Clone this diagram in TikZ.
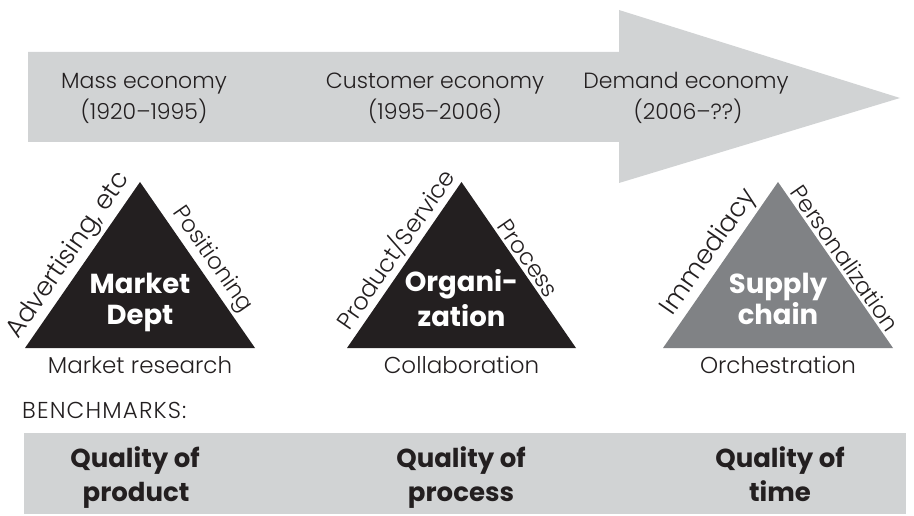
\documentclass[tikz,border=0pt]{standalone}
\usepackage{fontspec}
\setmainfont{Poppins}[UprightFont={* Light}, BoldFont={* Bold}]
\definecolor{bandgray}{HTML}{D1D3D4}
\definecolor{ink}{HTML}{231F20}
\definecolor{midgray}{HTML}{808285}
\newcommand{\fsz}[1]{\fontsize{#1}{#1}\selectfont}
\begin{document}
\begin{tikzpicture}[x=1pt,y=1pt,
  era/.style={font=\fsz{22}, text=ink, anchor=base, inner sep=0pt},
  core/.style={font=\fsz{27.5}\bfseries, text=white, anchor=base, inner sep=0pt},
  basetext/.style={font=\fsz{23}, text=ink, anchor=base, inner sep=0pt},
  sidelbl/.style={font=\fsz{#1}, text=ink, sloped, above, inner sep=3pt},
  sidelbl/.default=24,
  bench/.style={font=\fsz{26}\bfseries, text=ink, anchor=base, inner sep=0pt},
]
\useasboundingbox (0,0) rectangle (914,515);

% timeline arrow
\fill[bandgray] (28,463) -- (619,463) -- (619,505) -- (900,417)
  -- (619,332) -- (619,373) -- (28,373) -- cycle;

\node[era] (mass1) at (144,426) {Mass economy};
\node[era] (mass2) at (144,395) {(1920–1995)};
\node[era] (cust1) at (435,426) {Customer economy};
\node[era] (cust2) at (435,395) {(1995–2006)};
\node[era] (dem1) at (686,426) {Demand economy};
\node[era] (dem2) at (688,395) {(2006–??)};

% triangle corners
\coordinate (t1l) at (25,167);  \coordinate (t1r) at (255,167);  \coordinate (t1t) at (140,333);
\coordinate (t2l) at (347,167); \coordinate (t2r) at (576,167); \coordinate (t2t) at (461.5,333);
\coordinate (t3l) at (663,167); \coordinate (t3r) at (893,167); \coordinate (t3t) at (778,333);

\fill[ink] (t1l) -- (t1r) -- (t1t) -- cycle;
\fill[ink] (t2l) -- (t2r) -- (t2t) -- cycle;
\fill[midgray] (t3l) -- (t3r) -- (t3t) -- cycle;

% names inside the triangles
\node[core] (mkt1) at (140,222) {Market};
\node[core] (mkt2) at (140,190) {Dept};
\node[core] (org1) at (461.5,223) {Organi-};
\node[core] (org2) at (461.5,189) {zation};
\node[core] (sup1) at (778,222) {Supply};
\node[core] (sup2) at (778,190) {chain};

% side labels
\path (t1l) -- node[sidelbl=26, pos=.5] (adv) {Advertising, etc} (t1t);
\path (t1t) -- node[sidelbl=23, pos=.52] (pos) {Positioning} (t1r);
\path (t2l) -- node[sidelbl=24, pos=.54] (prod) {Product/Service} (t2t);
\path (t2t) -- node[sidelbl=23, pos=.5] (proc) {Process} (t2r);
\path (t3l) -- node[sidelbl=26, pos=.52] (imm) {Immediacy} (t3t);
\path (t3t) -- node[sidelbl=23, pos=.5] (pers) {Personalization} (t3r);

% base labels
\node[basetext] (mres) at (140,142) {Market research};
\node[basetext] (coll) at (461.5,142) {Collaboration};
\node[basetext] (orch) at (778,142) {Orchestration};

% benchmarks
\node[basetext, font=\fsz{23}\addfontfeature{LetterSpace=5}, anchor=base west] (bmk) at (22,97) {BENCHMARKS:};
\fill[bandgray] (24,82) rectangle (906,1);
\node[bench] (q1a) at (135,48) {Quality of};
\node[bench] (q1b) at (136,14) {product};
\node[bench] (q2a) at (461,48) {Quality of};
\node[bench] (q2b) at (461,14) {process};
\node[bench] (q3a) at (780,48) {Quality of};
\node[bench] (q3b) at (780,14) {time};
\end{tikzpicture}
\end{document}
